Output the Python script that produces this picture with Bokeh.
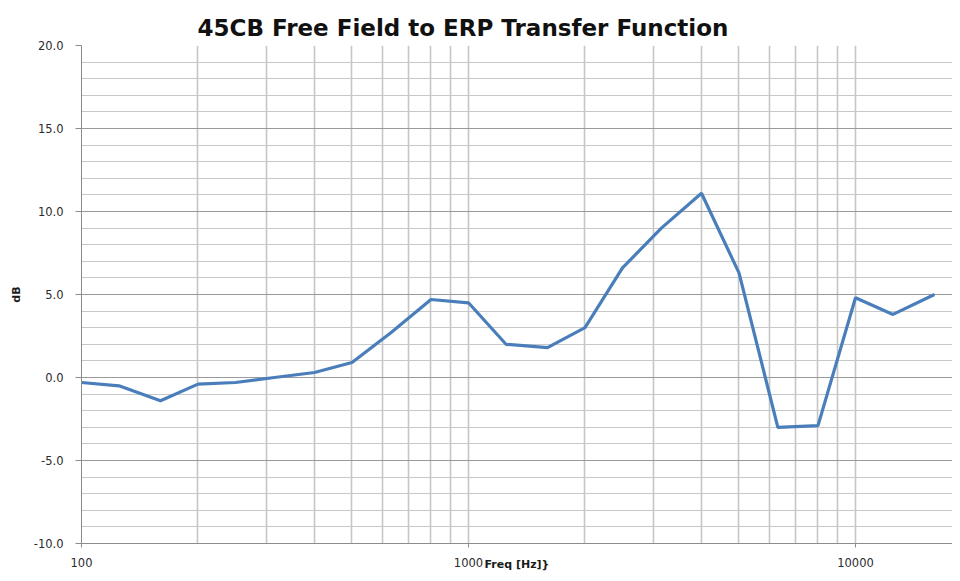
from bokeh.plotting import figure
from bokeh.models import FixedTicker, Range1d, CustomJSTickFormatter
from bokeh.embed import file_html
from bokeh.resources import INLINE

freq = [100, 125, 160, 200, 250, 315, 400, 500, 630, 800, 1000, 1250, 1600,
        2000, 2500, 3150, 4000, 5000, 6300, 8000, 10000, 12500, 16000]
db = [-0.3, -0.5, -1.4, -0.4, -0.3, 0.0, 0.3, 0.9, 2.7, 4.7, 4.5, 2.0, 1.8,
      3.0, 6.6, 9.0, 11.1, 6.3, -3.0, -2.9, 4.8, 3.8, 5.0]
x_major = [100, 1000, 10000]
x_grid = [200, 300, 400, 500, 600, 700, 800, 900, 1000, 2000, 3000, 4000, 5000,
          6000, 7000, 8000, 9000, 10000]
y_major = [-10, -5, 0, 5, 10, 15, 20]
y_minor = [-9, -8, -7, -6, -4, -3, -2, -1, 1, 2, 3, 4, 6, 7, 8, 9, 11, 12, 13, 14,
           16, 17, 18, 19]
title_text = "45CB Free Field to ERP  Transfer Function"
x_title = "Freq [Hz]}"
y_title = "dB"

p = figure(width=952, height=573, x_axis_type="log",
           x_range=Range1d(100, 17810), y_range=Range1d(-10, 20),
           output_backend="svg", toolbar_location=None,
           min_border_left=81, min_border_right=0, min_border_top=45,
           min_border_bottom=29)
p.outline_line_color = None
p.background_fill_color = "white"

p.title.text = title_text
p.title.text_font = "DejaVu Sans"
p.title.text_font_size = "23px"
p.title.text_font_style = "bold"
p.title.text_color = "#111111"
p.title.align = "left"
p.title.offset = 116
p.title.standoff = 10

# grids
p.xgrid.ticker = FixedTicker(ticks=x_grid)
p.xgrid.grid_line_color = "#c6c6c6"
p.xgrid.grid_line_width = 1.6
p.ygrid.ticker = FixedTicker(ticks=y_major, minor_ticks=y_minor)
p.ygrid.grid_line_color = "#9a9a9a"
p.ygrid.grid_line_width = 1.2
p.ygrid.minor_grid_line_color = "#c8c8c8"
p.ygrid.minor_grid_line_width = 1.2

p.line(freq, db, line_color="#4a7ebb", line_width=3.2)

# axes
xa = p.xaxis[0]
xa.ticker = FixedTicker(ticks=x_major)
xa.formatter = CustomJSTickFormatter(code="return tick.toFixed(0);")
xa.axis_line_color = "#8c8c8c"
xa.major_tick_line_color = "#8c8c8c"
xa.major_tick_out = 4
xa.major_tick_in = 0
xa.minor_tick_line_color = None
xa.major_label_standoff = 10
xa.major_label_text_font = "DejaVu Sans"
xa.major_label_text_font_size = "11.5px"
xa.major_label_text_color = "#2b2b2b"
xa.axis_label = x_title
xa.axis_label_text_font = "DejaVu Sans"
xa.axis_label_text_font_size = "11px"
xa.axis_label_text_font_style = "bold"
xa.axis_label_text_color = "#1a1a1a"
xa.axis_label_standoff = -12

ya = p.yaxis[0]
ya.ticker = FixedTicker(ticks=y_major)
ya.formatter = CustomJSTickFormatter(code="return tick.toFixed(1);")
ya.axis_line_color = "#8c8c8c"
ya.major_tick_line_color = "#8c8c8c"
ya.major_tick_out = 6
ya.major_tick_in = 0
ya.minor_tick_line_color = None
ya.major_label_standoff = 12
ya.major_label_text_font = "DejaVu Sans"
ya.major_label_text_font_size = "11.5px"
ya.major_label_text_color = "#2b2b2b"
ya.axis_label = y_title
ya.axis_label_text_font = "DejaVu Sans"
ya.axis_label_text_font_size = "11px"
ya.axis_label_text_font_style = "bold"
ya.axis_label_text_color = "#1a1a1a"
ya.axis_label_standoff = 8

open("out.html", "w").write(file_html(p, INLINE))
